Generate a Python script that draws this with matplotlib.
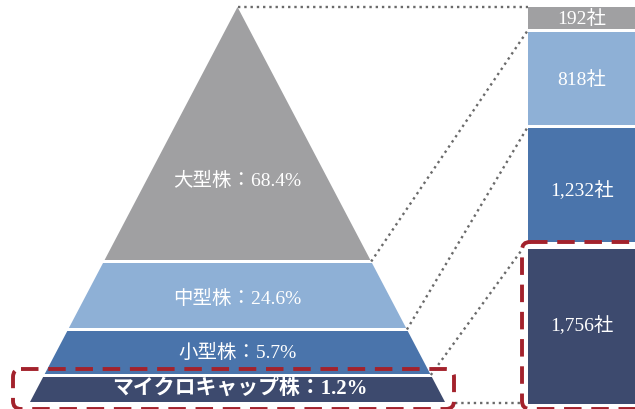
import matplotlib.pyplot as plt
from matplotlib.patches import FancyBboxPatch
import numpy as np

plt.rcParams['font.family'] = ['Liberation Serif', 'Noto Sans CJK JP', 'DejaVu Sans']

# --- Daten ---
categories = ['大型株', '中型株', '小型株', 'マイクロキャップ株']
shares = [68.4, 24.6, 5.7, 1.2]          # Anteil Marktkapitalisierung in %
counts = [192, 818, 1232, 1756]          # Anzahl Unternehmen

colors = ['#a0a0a2', '#8eb0d6', '#4a74ab', '#3d4a6e']
red = '#a3222c'
dot_color = '#6a6a6a'

# --- Layout (Pixel, schematisch) ---
apex = (237.5, 8)
base_y = 403
half_base = 207.5
layer_y = [(8, 261), (264, 329), (332, 375), (378, 403)]
label_y = [181, 299, 353, 389]
bar_x0, bar_w = 528, 108
bar_y = [(8, 30), (33, 126), (129, 243), (250, 405)]
count_label_y = [19, 80, 190, 325]


def half_width(y):
    return (y - apex[1]) / (base_y - apex[1]) * half_base


def main():
    fig = plt.figure(figsize=(6.35, 4.10), dpi=100)
    ax = fig.add_axes([0, 0, 1, 1])
    ax.set_xlim(0, 635)
    ax.set_ylim(410, 0)
    ax.axis('off')

    # Pyramide
    for i, (y0, y1) in enumerate(layer_y):
        w0, w1 = half_width(y0), half_width(y1)
        xs = [apex[0] - w0, apex[0] + w0, apex[0] + w1, apex[0] - w1]
        ys = [y0, y0, y1, y1]
        ax.fill(xs, ys, color=colors[i], lw=0, zorder=2)
        txt = f'{categories[i]}：{shares[i]}%'
        if i == 3:
            ax.text(apex[0] + 2, label_y[i], txt, color='white', fontsize=15,
                    fontweight='bold', ha='center', va='center', zorder=3)
        else:
            ax.text(apex[0], label_y[i], txt, color='white', fontsize=14,
                    ha='center', va='center', zorder=3)

    # Balken rechts
    for i, (y0, y1) in enumerate(bar_y):
        ax.bar(bar_x0 + bar_w / 2, y1 - y0, bottom=y0, width=bar_w,
               color=colors[i], lw=0, zorder=2)
        ax.text(582, count_label_y[i], f'{counts[i]:,}社', color='white',
                fontsize=14, ha='center', va='center', zorder=3)

    # Gepunktete Verbindungslinien
    lw = 1.7
    ax.plot([apex[0], bar_x0], [apex[1], apex[1]], ls=':', color=dot_color, lw=lw, zorder=1)
    starts = [262.5, 330.5, 376]
    ends = [(bar_x0, 31), (bar_x0, 127.5), (521, 252)]
    for ys, (xe, ye) in zip(starts, ends):
        ax.plot([apex[0] + half_width(ys), xe], [ys, ye], ls=':', color=dot_color, lw=lw, zorder=1)
    ax.plot([455, 521], [404, 404], ls=':', color=dot_color, lw=lw, zorder=1)

    # Rote gestrichelte Rahmen
    dash = (0, (4.5, 2.5))
    box_l = FancyBboxPatch((13, 370), 441, 40, boxstyle='round,pad=0,rounding_size=8',
                           fill=False, ec=red, lw=2.8, ls=dash, zorder=4)
    box_r = FancyBboxPatch((522, 243), 130, 167, boxstyle='round,pad=0,rounding_size=8',
                           fill=False, ec=red, lw=2.8, ls=dash, zorder=4)
    ax.add_patch(box_l)
    ax.add_patch(box_r)

    fig.savefig('out.png', dpi=100)


if __name__ == '__main__':
    main()
